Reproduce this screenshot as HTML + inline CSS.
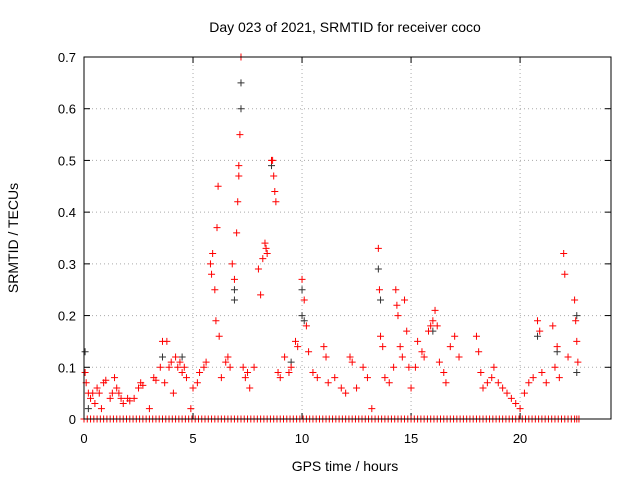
<!DOCTYPE html>
<html><head><meta charset="utf-8"><style>
body{margin:0;background:#fff;}
svg{display:block;font-family:"Liberation Sans",sans-serif;}
</style></head><body>
<svg id="chart" width="640" height="480" viewBox="0 0 640 480">
<rect x="0" y="0" width="640" height="480" fill="#fff"/>
<text x="345" y="32" font-size="14" text-anchor="middle">Day 023 of 2021, SRMTID for receiver coco</text>
<text transform="translate(18,238) rotate(-90)" font-size="14" text-anchor="middle">SRMTID / TECUs</text>
<text x="345" y="471" font-size="14" text-anchor="middle">GPS time / hours</text>
<g id="grid"></g><g id="ticks"></g><g id="marks"></g>
<rect x="84" y="57" width="527" height="362" fill="none" stroke="#000" stroke-width="1"/>
</svg>
<script>
const xTicks=[0,5,10,15,20];
const yTicks=[0,0.1,0.2,0.3,0.4,0.5,0.6,0.7];
const yTickLabels=["0","0.1","0.2","0.3","0.4","0.5","0.6","0.7"];
const redT=[0.05,0.1,0.2,0.3,0.4,0.5,0.6,0.7,0.8,0.9,1.0,1.2,1.3,1.4,1.5,1.6,1.7,1.8,2.0,2.1,2.3,2.5,2.6,2.7,3.0,3.2,3.3,3.5,3.6,3.7,3.8,3.9,4.0,4.1,4.2,4.3,4.4,4.5,4.6,4.7,4.9,5.0,5.2,5.3,5.5,5.6,5.8,5.85,5.9,6.0,6.05,6.1,6.15,6.2,6.3,6.5,6.6,6.7,6.8,6.9,7.0,7.05,7.1,7.1,7.15,7.2,7.3,7.4,7.5,7.6,7.8,8.0,8.1,8.2,8.3,8.35,8.4,8.6,8.65,8.7,8.75,8.8,8.9,9.0,9.2,9.4,9.5,9.7,9.8,10.0,10.1,10.2,10.3,10.5,10.7,11.0,11.1,11.2,11.5,11.8,12.0,12.2,12.3,12.5,12.8,13.0,13.2,13.5,13.55,13.6,13.7,13.8,14.0,14.2,14.3,14.35,14.4,14.5,14.6,14.7,14.8,14.9,15.0,15.2,15.3,15.5,15.6,15.8,15.9,16.0,16.1,16.2,16.3,16.5,16.6,16.8,17.0,17.2,18.0,18.1,18.2,18.3,18.5,18.7,18.8,19.0,19.2,19.4,19.6,19.8,20.0,20.2,20.4,20.6,20.8,20.9,21.0,21.2,21.5,21.6,21.7,21.8,22.0,22.05,22.2,22.5,22.55,22.6,22.65];
const redV=[0.09,0.07,0.05,0.04,0.05,0.03,0.06,0.05,0.02,0.07,0.075,0.04,0.05,0.08,0.06,0.05,0.04,0.03,0.04,0.035,0.04,0.06,0.07,0.065,0.02,0.08,0.075,0.1,0.15,0.07,0.15,0.1,0.11,0.05,0.12,0.1,0.11,0.09,0.1,0.08,0.02,0.06,0.07,0.09,0.1,0.11,0.3,0.28,0.32,0.25,0.19,0.37,0.45,0.16,0.08,0.11,0.12,0.1,0.3,0.27,0.36,0.42,0.47,0.49,0.55,0.7,0.1,0.08,0.09,0.06,0.1,0.29,0.24,0.31,0.34,0.33,0.32,0.5,0.5,0.47,0.44,0.42,0.09,0.08,0.12,0.09,0.1,0.15,0.14,0.27,0.23,0.18,0.13,0.09,0.08,0.14,0.12,0.07,0.08,0.06,0.05,0.12,0.11,0.06,0.1,0.08,0.02,0.33,0.25,0.16,0.14,0.08,0.07,0.1,0.25,0.22,0.2,0.14,0.12,0.23,0.17,0.1,0.06,0.1,0.15,0.13,0.12,0.17,0.18,0.19,0.21,0.18,0.11,0.09,0.07,0.14,0.16,0.12,0.16,0.13,0.09,0.06,0.07,0.08,0.1,0.07,0.06,0.05,0.04,0.03,0.02,0.05,0.07,0.08,0.19,0.17,0.09,0.07,0.18,0.1,0.14,0.08,0.32,0.28,0.12,0.23,0.19,0.15,0.11];
const zeroT=[0,0.3,0.6,0.9,1.2,1.5,1.8,2.1,2.4,2.7,3.0,3.3,3.6,3.9,4.2,4.5,4.8,5.1,5.4,5.7,6.0,6.3,6.6,6.9,7.2,7.5,7.8,8.1,8.4,8.7,9.0,9.3,9.6,9.9,10.2,10.5,10.8,11.1,11.4,11.7,12.0,12.3,12.6,12.9,13.2,13.5,13.8,14.1,14.4,14.7,15.0,15.3,15.6,15.9,16.2,16.5,16.8,17.1,17.4,17.7,18.0,18.3,18.6,18.9,19.2,19.5,19.8,20.1,20.4,20.7,21.0,21.3,21.6,21.9,22.2,22.5,22.7];
const zeroT2=[0.15,0.45,0.75,1.05,1.35,1.65,1.95,2.25,2.55,2.85,3.15,3.45,3.75,4.05,4.35,4.65,4.95,5.25,5.55,5.85,6.15,6.45,6.75,7.05,7.35,7.65,7.95,8.25,8.55,8.85,9.15,9.45,9.75,10.05,10.35,10.65,10.95,11.25,11.55,11.85,12.15,12.45,12.75,13.05,13.35,13.65,13.95,14.25,14.55,14.85,15.15,15.45,15.75,16.05,16.35,16.65,16.95,17.25,17.55,17.85,18.15,18.45,18.75,19.05,19.35,19.65,19.95,20.25,20.55,20.85,21.15,21.45,21.75,22.05,22.35,22.6];
const blackT=[0.05,0.2,3.6,4.5,6.9,6.9,7.2,7.2,8.6,9.5,10.0,10.0,10.1,13.5,13.6,16.0,20.8,21.7,22.6,22.6];
const blackV=[0.13,0.02,0.12,0.12,0.25,0.23,0.65,0.6,0.49,0.11,0.25,0.2,0.19,0.29,0.23,0.17,0.16,0.13,0.2,0.09];
const X0=84,X1=611,XMAX=24.17,Y0=419,Y1=57,YMAX=0.7;
function sx(t){return X0+(X1-X0)*t/XMAX;}
function sy(v){return Y0-(Y0-Y1)*v/YMAX;}
const NS="http://www.w3.org/2000/svg";
const grid=document.getElementById('grid'),ticks=document.getElementById('ticks'),marks=document.getElementById('marks');
function mk(tag,attrs,parent){const e=document.createElementNS(NS,tag);for(const k in attrs)e.setAttribute(k,attrs[k]);parent.appendChild(e);return e;}
xTicks.forEach(t=>{const x=sx(t);
 if(t>0){const g=mk('line',{x1:x,x2:x,y1:Y1,y2:Y0,stroke:'#aaa','stroke-dasharray':'1,3'},grid);
 
 }
 mk('line',{x1:x,x2:x,y1:Y0,y2:Y0-6,stroke:'#000'},ticks);
 mk('line',{x1:x,x2:x,y1:Y1,y2:Y1+6,stroke:'#000'},ticks);
 const l=mk('text',{x:x,y:443,'font-size':13,'text-anchor':'middle'},ticks);l.textContent=t;
 
 });
yTicks.forEach((v,i)=>{const y=sy(v);
 if(v>0&&v<YMAX){const g=mk('line',{x1:X0,x2:X1,y1:y,y2:y,stroke:'#aaa','stroke-dasharray':'1,3'},grid);
 
 }
 mk('line',{x1:X0,x2:X0+6,y1:y,y2:y,stroke:'#000'},ticks);
 mk('line',{x1:X1,x2:X1-6,y1:y,y2:y,stroke:'#000'},ticks);
 const l=mk('text',{x:76,y:y+5,'font-size':13,'text-anchor':'end'},ticks);l.textContent=yTickLabels[i];
 
 });
function plus(t,v,c,name){const x=sx(t),y=sy(v);
 const p=mk('path',{d:`M${x-3.5},${y}H${x+3.5}M${x},${y-3.5}V${y+3.5}`,stroke:c,'stroke-width':1,fill:'none'},marks);
 
 }
blackT.forEach((t,i)=>plus(t,blackV[i],'#333','black-point'));
zeroT.forEach(t=>plus(t,0,'#f00','zero-point'));
zeroT2.forEach(t=>plus(t,0,'#f00','zero-point'));
redT.forEach((t,i)=>plus(t,redV[i],'#f00','red-point'));
</script>
</body></html>
